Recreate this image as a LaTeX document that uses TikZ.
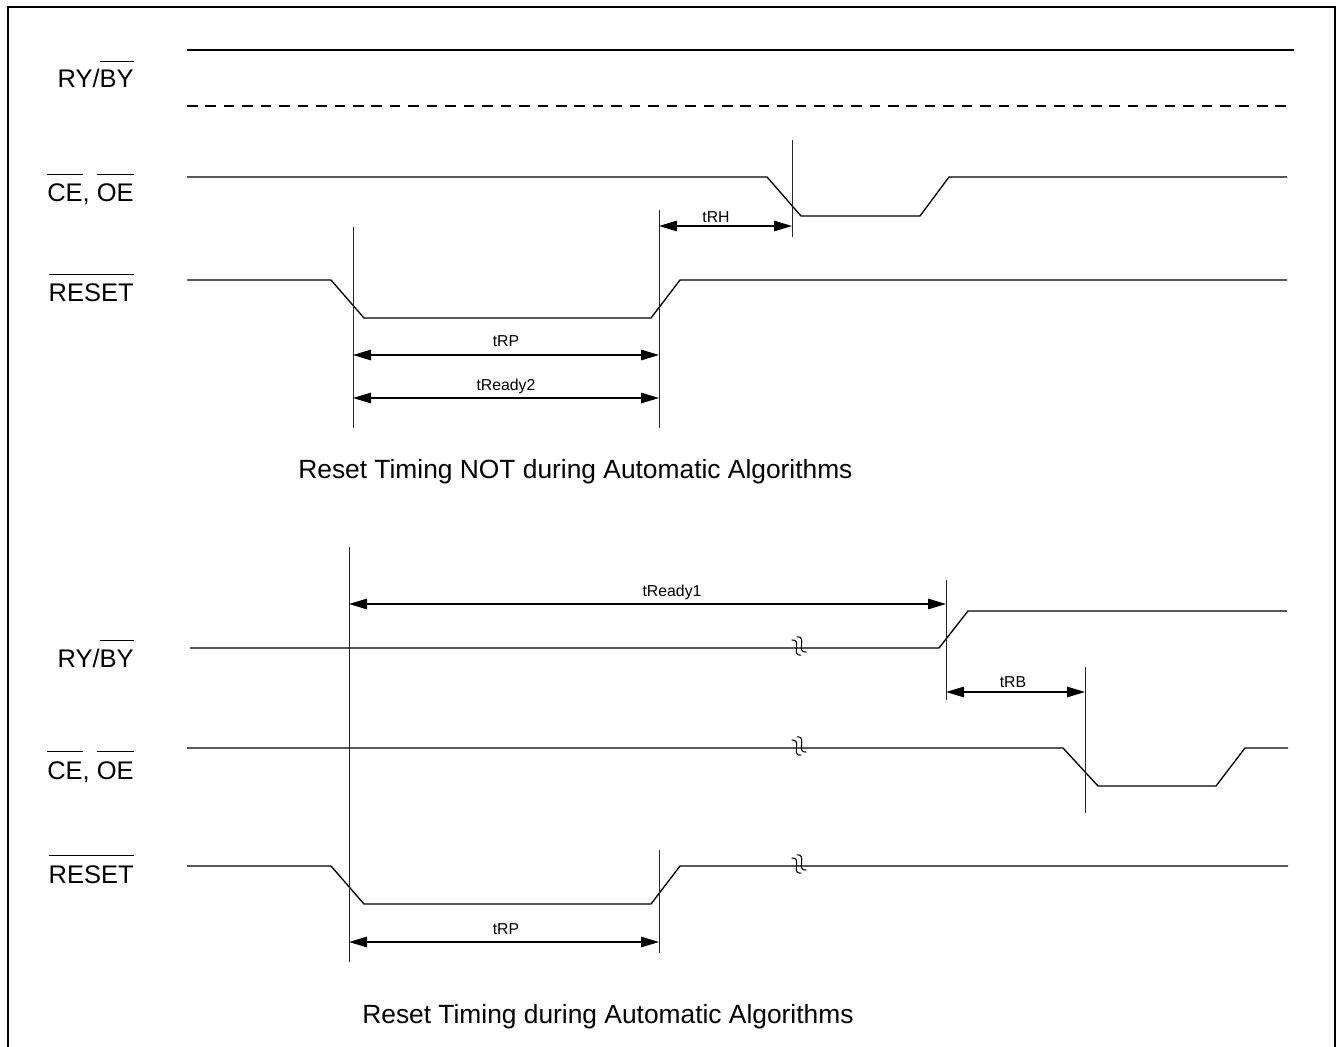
\documentclass[tikz,border=0pt]{standalone}
\usepackage{fontspec}
\setmainfont{Liberation Sans}
\usetikzlibrary{arrows.meta}
\newcommand{\ob}[1]{\setbox0\hbox{#1}\rlap{\raisebox{\dimexpr\ht0+5pt\relax}{\rule{\wd0}{0.55pt}}}\box0}
\begin{document}
\begin{tikzpicture}[x=0.02cm,y=-0.02cm,
  sig/.style={line width=0.75pt},
  vmark/.style={line width=0.5pt, draw=black!85},
  dimarrow/.style={line width=0.75pt, {Triangle[length=0.36cm,width=0.21cm]}-{Triangle[length=0.36cm,width=0.21cm]}},
  siglabel/.style={anchor=base east, font=\fontsize{14.5}{17}\selectfont, inner sep=0pt},
  dimlabel/.style={anchor=base, font=\fontsize{9}{11}\selectfont, inner sep=0pt},
  caption/.style={anchor=base west, font=\fontsize{15}{18}\selectfont, inner sep=0pt},
  brk/.pic={
    \foreach \d in {-3,3}{
      \draw[line width=0.6pt, rotate=-58, yshift=\d*0.02cm] (-9,0) .. controls (-4,-10) and (4,10) .. (9,0);
    }
  }
]
\useasboundingbox (0,0) rectangle (1338,1047);
% frame
\draw[line width=1.6pt] (8,1050) -- (8,7) -- (1335,7) -- (1335,1050);

%================ TOP DIAGRAM =================
\node[siglabel] (l1) at (134,88) {RY/\ob{BY}};
\node[siglabel] (l2) at (134,202) {\ob{CE}, \ob{OE}};
\node[siglabel] (l3) at (134,302) {\ob{RESET}};

\draw[sig] (187,50) -- (1294,50);
\draw[sig, dash pattern=on 6pt off 4.5pt] (187,106) -- (1290,106);
\draw[sig] (187,177) -- (767,177) -- (801,216) -- (920,216) -- (949,177) -- (1287,177);
\draw[sig] (187,280) -- (331,280) -- (364,318) -- (651,318) -- (680,280) -- (1287,280);

% vertical markers
\coordinate (a1) at (353,227); \coordinate (a2) at (353,428);
\coordinate (b1) at (659,210); \coordinate (b2) at (659,428);
\coordinate (c1) at (792,140); \coordinate (c2) at (792,237);
\draw[vmark] (a1) -- (a2);
\draw[vmark] (b1) -- (b2);
\draw[vmark] (c1) -- (c2);

\coordinate (rhA) at (659,226); \coordinate (rhB) at (792,226);
\draw[dimarrow] (rhA) -- (rhB);
\node[dimlabel] (trh) at (716,223) {tRH};

\coordinate (rpA) at (353,355); \coordinate (rpB) at (659,355);
\draw[dimarrow] (rpA) -- (rpB);
\node[dimlabel] (trp1) at (506,347) {tRP};

\coordinate (r2A) at (353,398); \coordinate (r2B) at (659,398);
\draw[dimarrow] (r2A) -- (r2B);
\node[dimlabel] (tr2) at (506,390) {tReady2};

\node[caption] (cap1) at (298,478) {Reset Timing NOT during Automatic Algorithms};

%================ BOTTOM DIAGRAM =================
\node[siglabel] (m1) at (134,667) {RY/\ob{BY}};
\node[siglabel] (m2) at (134,779) {\ob{CE}, \ob{OE}};
\node[siglabel] (m3) at (134,883) {\ob{RESET}};

\draw[sig] (190,648) -- (939,648) -- (968,611) -- (1287,611);
\draw[sig] (187,748) -- (1063,748) -- (1098,786) -- (1216,786) -- (1245,748) -- (1288,748);
\draw[sig] (187,866) -- (331,866) -- (364,904) -- (651,904) -- (680,866) -- (1288,866);

\pic at (799,646) {brk};
\pic at (799,746) {brk};
\pic at (799,864) {brk};

\coordinate (d1) at (349,547); \coordinate (d2) at (349,962);
\coordinate (e1) at (659,850); \coordinate (e2) at (659,953);
\coordinate (f1) at (946,580); \coordinate (f2) at (946,700);
\coordinate (g1) at (1085,667); \coordinate (g2) at (1085,813);
\draw[vmark] (d1) -- (d2);
\draw[vmark] (e1) -- (e2);
\draw[vmark] (f1) -- (f2);
\draw[vmark] (g1) -- (g2);

\coordinate (r1A) at (349,604); \coordinate (r1B) at (946,604);
\draw[dimarrow] (r1A) -- (r1B);
\node[dimlabel] (tr1) at (672,596) {tReady1};

\coordinate (rbA) at (946,692); \coordinate (rbB) at (1085,692);
\draw[dimarrow] (rbA) -- (rbB);
\node[dimlabel] (trb) at (1013,687) {tRB};

\coordinate (rqA) at (349,942); \coordinate (rqB) at (659,942);
\draw[dimarrow] (rqA) -- (rqB);
\node[dimlabel] (trp2) at (506,934) {tRP};

\node[caption] (cap2) at (362,1023) {Reset Timing during Automatic Algorithms};
\end{tikzpicture}
\end{document}
